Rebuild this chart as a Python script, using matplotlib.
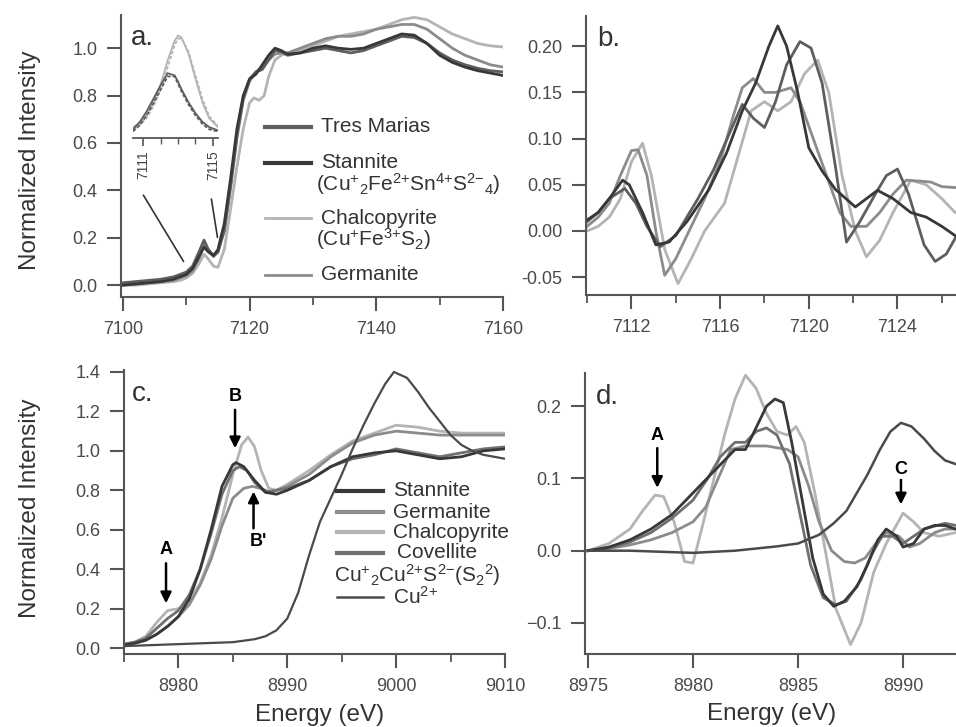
import matplotlib
matplotlib.use("Agg")
import matplotlib.pyplot as plt
from matplotlib.lines import Line2D
from matplotlib.ticker import MultipleLocator

plt.rcParams['font.family'] = ['Liberation Sans', 'DejaVu Sans']
plt.rcParams['mathtext.fontset'] = 'custom'
plt.rcParams['mathtext.rm'] = 'Liberation Sans'
plt.rcParams['mathtext.it'] = 'Liberation Sans:italic'
plt.rcParams['mathtext.bf'] = 'Liberation Sans:bold'

W, H = 956, 727

# ---------------- panel a: Fe K-edge XANES ----------------
fe_x_tres = [7100, 7102, 7104, 7106, 7108, 7109, 7110, 7111, 7112, 7112.8, 7113.5, 7114.3, 7115, 7116, 7117,
             7118, 7119, 7120, 7121, 7122, 7123, 7124, 7125, 7126, 7128, 7130, 7132, 7134, 7136, 7138, 7140,
             7142, 7144, 7146, 7148, 7150, 7152, 7154, 7156, 7158, 7160]
fe_y_tres = [0.01, 0.015, 0.02, 0.025, 0.035, 0.045, 0.055, 0.08, 0.14, 0.19, 0.15, 0.125, 0.14, 0.23, 0.42,
             0.63, 0.79, 0.87, 0.9, 0.91, 0.95, 0.99, 0.985, 0.97, 0.98, 0.99, 1.0, 0.99, 0.98, 0.99, 1.01,
             1.03, 1.05, 1.045, 1.02, 0.98, 0.95, 0.93, 0.915, 0.905, 0.9]
fe_x_stan = fe_x_tres
fe_y_stan = [0.0, 0.005, 0.01, 0.015, 0.025, 0.035, 0.045, 0.07, 0.12, 0.16, 0.14, 0.125, 0.15, 0.26, 0.45,
             0.66, 0.8, 0.87, 0.89, 0.93, 0.97, 1.0, 0.99, 0.975, 0.98, 1.0, 1.01, 1.0, 0.995, 1.0, 1.02,
             1.04, 1.06, 1.055, 1.02, 0.97, 0.94, 0.92, 0.905, 0.895, 0.885]
fe_x_germ = fe_x_tres
fe_y_germ = [0.0, 0.005, 0.01, 0.015, 0.02, 0.03, 0.04, 0.06, 0.11, 0.17, 0.15, 0.12, 0.14, 0.23, 0.41,
             0.62, 0.78, 0.86, 0.9, 0.92, 0.95, 0.975, 0.98, 0.98, 1.0, 1.02, 1.04, 1.05, 1.05, 1.06, 1.08,
             1.09, 1.1, 1.1, 1.08, 1.04, 1.0, 0.97, 0.95, 0.93, 0.92]
fe_x_chal = [7100, 7102, 7104, 7106, 7108, 7109, 7110, 7111, 7112, 7112.8, 7113.5, 7114.3, 7115, 7116, 7117,
             7118, 7119, 7120, 7120.7, 7121.5, 7122.3, 7123, 7124, 7125, 7126, 7128, 7130, 7132, 7134, 7136,
             7138, 7140, 7142, 7144, 7146, 7148, 7150, 7152, 7154, 7156, 7158, 7160]
fe_y_chal = [0.0, 0.0, 0.005, 0.01, 0.015, 0.02, 0.03, 0.05, 0.09, 0.13, 0.11, 0.08, 0.075, 0.15, 0.32,
             0.5, 0.66, 0.77, 0.79, 0.78, 0.8, 0.88, 0.95, 0.97, 0.98, 0.99, 1.01, 1.03, 1.05, 1.06,
             1.07, 1.08, 1.1, 1.12, 1.13, 1.12, 1.09, 1.06, 1.04, 1.02, 1.01, 1.005]

# inset: pre-edge peaks
pre_x = [7110.4, 7110.8, 7111.2, 7111.6, 7112.0, 7112.4, 7112.8, 7113.0, 7113.2, 7113.6, 7114.0, 7114.4,
         7114.8, 7115.3]
pre_chal = [0.1, 0.14, 0.22, 0.34, 0.5, 0.72, 0.9, 0.95, 0.93, 0.78, 0.55, 0.33, 0.18, 0.1]
pre_germ = [0.08, 0.12, 0.19, 0.3, 0.45, 0.66, 0.86, 0.92, 0.92, 0.8, 0.58, 0.36, 0.2, 0.11]
pre_stan = [0.08, 0.15, 0.25, 0.37, 0.49, 0.6, 0.58, 0.52, 0.45, 0.33, 0.23, 0.15, 0.1, 0.07]
pre_tres = [0.06, 0.12, 0.21, 0.33, 0.45, 0.57, 0.57, 0.5, 0.43, 0.31, 0.21, 0.13, 0.08, 0.06]

# ---------------- panel b: Fe derivative ----------------
fd_x_stan = [7110.0, 7110.5, 7111.0, 7111.6, 7111.9, 7112.5, 7113.1, 7113.7, 7114.5, 7115.5, 7116.3, 7117.0,
             7117.6, 7118.2, 7118.6, 7119.0, 7119.5, 7120.0, 7120.6, 7121.2, 7122.1, 7122.6, 7123.1, 7123.8,
             7124.6, 7125.3, 7126.0, 7126.6]
fd_y_stan = [0.012, 0.02, 0.035, 0.055, 0.05, 0.02, -0.015, -0.012, 0.01, 0.045, 0.085, 0.13,
             0.16, 0.2, 0.222, 0.2, 0.15, 0.09, 0.065, 0.045, 0.026, 0.035, 0.044, 0.035,
             0.02, 0.015, 0.005, -0.005]
fd_x_tres = [7110.0, 7110.5, 7111.0, 7111.7, 7112.2, 7112.7, 7113.3, 7114.0, 7115.0, 7115.7, 7116.5, 7117.0,
             7117.5, 7118.0, 7118.5, 7119.0, 7119.6, 7120.1, 7120.6, 7121.2, 7121.7, 7122.3, 7123.0, 7123.5,
             7124.0, 7124.5, 7125.2, 7125.7, 7126.2, 7126.6]
fd_y_tres = [0.01, 0.02, 0.035, 0.046, 0.03, 0.005, -0.017, -0.005, 0.035, 0.066, 0.11, 0.137,
             0.122, 0.112, 0.14, 0.18, 0.205, 0.198, 0.16, 0.07, -0.012, 0.01, 0.04, 0.06,
             0.067, 0.04, -0.015, -0.033, -0.025, -0.008]
fd_x_germ = [7110.0, 7110.5, 7111.0, 7111.5, 7112.0, 7112.3, 7112.7, 7113.1, 7113.5, 7114.0, 7114.6, 7115.3,
             7116.0, 7116.6, 7117.0, 7117.5, 7118.0, 7118.5, 7119.2, 7119.6, 7120.2, 7120.8, 7121.4, 7121.9,
             7122.6, 7123.2, 7123.8, 7124.4, 7125.0, 7125.5, 7126.0, 7126.6]
fd_y_germ = [0.005, 0.015, 0.03, 0.06, 0.087, 0.088, 0.06, 0.0, -0.048, -0.03, 0.0, 0.035,
             0.075, 0.125, 0.155, 0.165, 0.15, 0.15, 0.155, 0.14, 0.1, 0.06, 0.02, 0.005,
             0.005, 0.02, 0.04, 0.055, 0.054, 0.053, 0.048, 0.047]
fd_x_chal = [7110.0, 7110.5, 7111.0, 7111.5, 7112.0, 7112.5, 7112.9, 7113.5, 7114.1, 7114.7, 7115.3, 7116.2,
             7116.8, 7117.4, 7118.0, 7118.6, 7119.2, 7119.8, 7120.4, 7120.9, 7121.5, 7122.1, 7122.6, 7123.2,
             7123.8, 7124.6, 7125.3, 7126.0, 7126.6]
fd_y_chal = [0.0, 0.005, 0.015, 0.035, 0.075, 0.095, 0.06, -0.02, -0.057, -0.03, 0.0, 0.03,
             0.08, 0.13, 0.14, 0.13, 0.14, 0.17, 0.185, 0.15, 0.06, 0.0, -0.028, -0.01,
             0.02, 0.055, 0.05, 0.035, 0.02]

# ---------------- panel c: Cu K-edge XANES ----------------
cu_x_stan = [8975, 8976, 8977, 8978, 8979, 8980, 8981, 8982, 8983, 8984, 8985, 8985.3, 8986, 8987, 8988,
             8989, 8990, 8992, 8994, 8996, 8998, 9000, 9002, 9004, 9006, 9008, 9010]
cu_y_stan = [0.015, 0.025, 0.04, 0.07, 0.11, 0.16, 0.25, 0.4, 0.6, 0.82, 0.93, 0.94, 0.92, 0.85, 0.79,
             0.78, 0.8, 0.85, 0.92, 0.97, 0.99, 1.0, 0.98, 0.96, 0.97, 1.0, 1.01]
cu_x_germ = [8975, 8976, 8977, 8978, 8979, 8980, 8981, 8982, 8983, 8984, 8985, 8986, 8986.8, 8987.5, 8988.5,
             8990, 8992, 8994, 8996, 8998, 9000, 9002, 9004, 9006, 9008, 9010]
cu_y_germ = [0.02, 0.025, 0.04, 0.07, 0.11, 0.16, 0.22, 0.32, 0.45, 0.62, 0.76, 0.81, 0.82, 0.81, 0.79,
             0.82, 0.88, 0.97, 1.04, 1.08, 1.1, 1.09, 1.08, 1.08, 1.08, 1.08]
cu_x_chal = [8975, 8976, 8977, 8978, 8979, 8980, 8981, 8982, 8983, 8984, 8985, 8985.8, 8986.4, 8987, 8987.6,
             8988.3, 8989, 8990, 8992, 8994, 8996, 8998, 9000, 9002, 9004, 9006, 9008, 9010]
cu_y_chal = [0.02, 0.03, 0.06, 0.13, 0.19, 0.2, 0.24, 0.33, 0.47, 0.66, 0.88, 1.03, 1.07, 1.02, 0.9,
             0.81, 0.8, 0.83, 0.9, 0.98, 1.05, 1.09, 1.13, 1.12, 1.1, 1.09, 1.09, 1.09]
cu_x_cov = [8975, 8976, 8977, 8978, 8979, 8980, 8981, 8982, 8983, 8984, 8985, 8985.6, 8986.3, 8987, 8988,
            8989, 8990, 8992, 8994, 8996, 8998, 9000, 9002, 9004, 9006, 9008, 9010]
cu_y_cov = [0.02, 0.03, 0.05, 0.1, 0.15, 0.19, 0.27, 0.4, 0.58, 0.78, 0.9, 0.92, 0.9, 0.84, 0.79,
            0.8, 0.81, 0.85, 0.92, 0.96, 0.98, 1.01, 0.99, 0.97, 0.99, 1.01, 1.02]
cu_x_cu2 = [8975, 8980, 8985, 8987, 8988, 8989, 8990, 8991, 8992, 8993, 8994, 8995, 8996, 8997, 8998, 8999,
            8999.8, 9001, 9002, 9003, 9004, 9005, 9006, 9007, 9008, 9009, 9010]
cu_y_cu2 = [0.01, 0.02, 0.03, 0.045, 0.06, 0.09, 0.15, 0.28, 0.47, 0.64, 0.76, 0.88, 1.01, 1.13, 1.24, 1.34,
            1.4, 1.37, 1.3, 1.22, 1.15, 1.08, 1.03, 1.0, 0.98, 0.97, 0.96]

# ---------------- panel d: Cu derivative ----------------
cd_x_stan = [8975, 8976, 8977, 8978, 8979, 8980, 8980.5, 8981, 8981.5, 8982, 8982.5, 8983, 8983.5, 8983.9,
             8984.3, 8984.7, 8985.2, 8985.7, 8986.2, 8986.7, 8987.2, 8987.8, 8988.3, 8988.8, 8989.2, 8989.7,
             8990, 8990.5, 8991, 8991.5, 8992, 8992.5]
cd_y_stan = [0.0, 0.005, 0.015, 0.03, 0.05, 0.08, 0.095, 0.11, 0.125, 0.14, 0.14, 0.17, 0.2, 0.21,
             0.205, 0.15, 0.07, -0.01, -0.06, -0.077, -0.07, -0.05, -0.02, 0.015, 0.03, 0.02,
             0.005, 0.01, 0.03, 0.035, 0.035, 0.03]
cd_x_germ = [8975, 8976, 8977, 8978, 8979, 8980, 8980.6, 8981.2, 8981.8, 8982.5, 8983.5, 8984.5, 8985,
             8985.5, 8986, 8986.6, 8987.2, 8987.7, 8988.2, 8988.7, 8989.2, 8989.8, 8990.3, 8990.8, 8991.5,
             8992, 8992.5]
cd_y_germ = [0.0, 0.003, 0.008, 0.015, 0.025, 0.04, 0.06, 0.1, 0.14, 0.145, 0.145, 0.14, 0.13,
             0.09, 0.04, 0.0, -0.015, -0.017, -0.01, 0.01, 0.025, 0.02, 0.005, 0.01, 0.025,
             0.03, 0.03]
cd_x_chal = [8975, 8976, 8977, 8977.6, 8978.2, 8978.6, 8979.1, 8979.6, 8980, 8980.5, 8981, 8981.5, 8982,
             8982.5, 8983, 8983.5, 8984, 8984.5, 8984.9, 8985.3, 8985.8, 8986.3, 8986.8, 8987.5, 8988,
             8988.6, 8989.2, 8990, 8990.5, 8991, 8991.7, 8992.5]
cd_y_chal = [0.0, 0.01, 0.03, 0.055, 0.077, 0.075, 0.04, -0.015, -0.017, 0.04, 0.1, 0.16, 0.21,
             0.243, 0.225, 0.19, 0.165, 0.16, 0.172, 0.15, 0.08, 0.0, -0.08, -0.13, -0.1,
             -0.03, 0.01, 0.052, 0.04, 0.025, 0.02, 0.025]
cd_x_cov = [8975, 8976, 8977, 8978, 8979, 8980, 8980.7, 8981.3, 8982, 8982.5, 8983, 8983.5, 8984, 8984.6,
            8985.1, 8985.6, 8986.2, 8986.8, 8987.3, 8988, 8988.5, 8989, 8989.5, 8990, 8990.5, 8991, 8992,
            8992.5]
cd_y_cov = [0.0, 0.004, 0.012, 0.025, 0.045, 0.07, 0.1, 0.13, 0.15, 0.15, 0.165, 0.17, 0.16, 0.12,
            0.05, -0.02, -0.065, -0.075, -0.07, -0.04, -0.005, 0.02, 0.02, 0.01, 0.02, 0.03, 0.038,
            0.035]
cd_x_cu2 = [8975, 8977, 8979, 8980, 8982, 8984, 8985, 8986, 8986.7, 8987.3, 8987.8, 8988.3, 8988.9, 8989.4,
            8989.9, 8990.4, 8991, 8991.5, 8992, 8992.5]
cd_y_cu2 = [0.0, 0.0, -0.002, -0.003, 0.0, 0.006, 0.01, 0.022, 0.038, 0.055, 0.08, 0.105, 0.14, 0.165,
            0.177, 0.172, 0.155, 0.138, 0.125, 0.12]

c_tres, c_stan, c_chal, c_germ = '#5e5e5e', '#383838', '#b4b4b4', '#8c8c8c'
c_cov, c_cu2 = '#707070', '#4a4a4a'


def px_rect(left, top, right, bottom):
    return [left / W, 1 - bottom / H, (right - left) / W, (bottom - top) / H]


def style(ax):
    for s in ['top', 'right']:
        ax.spines[s].set_visible(False)
    for s in ['left', 'bottom']:
        ax.spines[s].set_color('#555555')
        ax.spines[s].set_linewidth(1.5)
    ax.tick_params(which='major', direction='out', length=10, width=1.5, color='#555555',
                   labelsize=13, labelcolor='#4a4a4a', pad=7)
    ax.tick_params(which='minor', direction='out', length=6, width=1.3, color='#555555')


def legend_entry(x, y, label, color, lw=2.0, line=True, tx=None):
    if line:
        fig.add_artist(Line2D([x / W, (x + 46) / W], [1 - y / H, 1 - y / H], color=color, lw=lw))
    if tx is None:
        tx = x + 56
    fig.text(tx / W, 1 - y / H, label, va='center', ha='left', fontsize=15, color='#333333')


fig = plt.figure(figsize=(W / 100, H / 100), dpi=100)

# ---- a ----
ax_a = fig.add_axes(px_rect(121, 15, 503, 297))
style(ax_a)
ax_a.plot(fe_x_chal, fe_y_chal, color=c_chal, lw=2)
ax_a.plot(fe_x_germ, fe_y_germ, color=c_germ, lw=2)
ax_a.plot(fe_x_tres, fe_y_tres, color=c_tres, lw=2)
ax_a.plot(fe_x_stan, fe_y_stan, color=c_stan, lw=2)
ax_a.set_xlim(7099.7, 7160)
ax_a.set_ylim(-0.05, 1.14)
ax_a.xaxis.set_major_locator(MultipleLocator(20))
ax_a.xaxis.set_minor_locator(MultipleLocator(10))
ax_a.set_yticks([0.0, 0.2, 0.4, 0.6, 0.8, 1.0])
ax_a.text(0.025, 0.965, 'a.', transform=ax_a.transAxes, fontsize=20, va='top', color='#333333')
ax_a.annotate('', xy=(7109.8, 0.09), xytext=(7103.0, 0.39),
              arrowprops=dict(arrowstyle='-', color='#333333', lw=1.2))
ax_a.annotate('', xy=(7115.0, 0.19), xytext=(7113.9, 0.375),
              arrowprops=dict(arrowstyle='-', color='#333333', lw=1.2))

legend_entry(265, 127, 'Tres Marias', c_tres, lw=3)
legend_entry(265, 163, 'Stannite', c_stan, lw=3)
legend_entry(0, 184, r'(Cu$^{{+}}$$_{2}$Fe$^{2{+}}$Sn$^{4{+}}$S$^{2{-}}$$_{4}$)', c_stan, line=False, tx=316)
legend_entry(265, 218, 'Chalcopyrite', c_chal, lw=2)
legend_entry(0, 239, r'(Cu$^{{+}}$Fe$^{3{+}}$S$_{2}$)', c_chal, line=False, tx=316)
legend_entry(265, 275, 'Germanite', c_germ, lw=2)

# inset
ax_in = fig.add_axes(px_rect(133, 30, 218, 138))
ax_in.patch.set_alpha(0)
for s in ['top', 'right', 'left']:
    ax_in.spines[s].set_visible(False)
ax_in.spines['bottom'].set_color('#555555')
ax_in.spines['bottom'].set_linewidth(1.3)
ax_in.plot(pre_x, pre_chal, color=c_chal, lw=1.3)
ax_in.plot(pre_x, pre_germ, color=c_chal, lw=1.3, ls=(0, (2, 1)))
ax_in.plot(pre_x, pre_stan, color=c_tres, lw=1.3)
ax_in.plot(pre_x, pre_tres, color=c_tres, lw=1.3, ls=(0, (2, 1)))
ax_in.set_xlim(7110.4, 7115.3)
ax_in.set_ylim(0, 1)
ax_in.set_yticks([])
ax_in.set_xticks([7111, 7115])
ax_in.xaxis.set_minor_locator(MultipleLocator(1))
ax_in.tick_params(which='major', direction='out', length=6, width=1.2, color='#555555',
                  labelsize=10, labelcolor='#444444', labelrotation=90, pad=3)
ax_in.tick_params(which='minor', direction='out', length=4, width=1.0, color='#555555')

# ---- b ----
ax_b = fig.add_axes(px_rect(586, 16, 956, 295))
style(ax_b)
ax_b.plot(fd_x_chal, fd_y_chal, color=c_chal, lw=2)
ax_b.plot(fd_x_germ, fd_y_germ, color=c_germ, lw=2)
ax_b.plot(fd_x_tres, fd_y_tres, color=c_tres, lw=2)
ax_b.plot(fd_x_stan, fd_y_stan, color=c_stan, lw=2)
ax_b.set_xlim(7109.95, 7126.64)
ax_b.set_ylim(-0.0693, 0.2327)
ax_b.xaxis.set_major_locator(MultipleLocator(4))
ax_b.xaxis.set_minor_locator(MultipleLocator(2))
ax_b.set_yticks([-0.05, 0.0, 0.05, 0.10, 0.15, 0.20])
ax_b.set_yticklabels(['-0.05', '0.00', '0.05', '0.10', '0.15', '0.20'])
ax_b.text(0.03, 0.965, 'b.', transform=ax_b.transAxes, fontsize=20, va='top', color='#333333')

# ---- c ----
ax_c = fig.add_axes(px_rect(124, 370, 505, 654))
style(ax_c)
ax_c.plot(cu_x_chal, cu_y_chal, color=c_chal, lw=2)
ax_c.plot(cu_x_germ, cu_y_germ, color=c_germ, lw=2)
ax_c.plot(cu_x_cov, cu_y_cov, color=c_cov, lw=2)
ax_c.plot(cu_x_stan, cu_y_stan, color=c_stan, lw=2)
ax_c.plot(cu_x_cu2, cu_y_cu2, color=c_cu2, lw=1.6)
ax_c.set_xlim(8975, 9010)
ax_c.set_ylim(-0.03, 1.41)
ax_c.xaxis.set_major_locator(MultipleLocator(10))
ax_c.xaxis.set_minor_locator(MultipleLocator(5))
ax_c.set_yticks([0.0, 0.2, 0.4, 0.6, 0.8, 1.0, 1.2, 1.4])
ax_c.text(0.02, 0.96, 'c.', transform=ax_c.transAxes, fontsize=20, va='top', color='#333333')
arrow_kw = dict(arrowstyle='-|>', color='black', lw=1.8, mutation_scale=16, shrinkA=0, shrinkB=0)
ax_c.annotate('', xy=(8978.86, 0.227), xytext=(8978.86, 0.43), arrowprops=arrow_kw)
ax_c.text(8978.86, 0.50, 'A', ha='center', va='center', fontsize=13, fontweight='bold')
ax_c.annotate('', xy=(8985.2, 1.013), xytext=(8985.2, 1.208), arrowprops=arrow_kw)
ax_c.text(8985.2, 1.275, 'B', ha='center', va='center', fontsize=13, fontweight='bold')
ax_c.annotate('', xy=(8986.9, 0.794), xytext=(8986.9, 0.607), arrowprops=arrow_kw)
ax_c.text(8987.3, 0.54, "B'", ha='center', va='center', fontsize=13, fontweight='bold')

legend_entry(337, 491, 'Stannite', c_stan, lw=3)
legend_entry(337, 512, 'Germanite', c_germ, lw=3)
legend_entry(337, 532, 'Chalcopyrite', c_chal, lw=3)
legend_entry(337, 553, 'Covellite', c_cov, lw=3, tx=397)
legend_entry(0, 575, r'Cu$^{{+}}$$_{2}$Cu$^{2{+}}$S$^{2{-}}$(S$_{2}$$^{2}$)', c_cov, line=False, tx=334)
legend_entry(337, 597, r'Cu$^{2{+}}$', c_cu2, lw=1.8)

# ---- d ----
ax_d = fig.add_axes(px_rect(585, 373, 956, 654))
style(ax_d)
ax_d.plot(cd_x_chal, cd_y_chal, color=c_chal, lw=2)
ax_d.plot(cd_x_germ, cd_y_germ, color=c_germ, lw=2)
ax_d.plot(cd_x_cov, cd_y_cov, color=c_cov, lw=2)
ax_d.plot(cd_x_stan, cd_y_stan, color=c_stan, lw=2)
ax_d.plot(cd_x_cu2, cd_y_cu2, color=c_cu2, lw=1.8)
ax_d.set_xlim(8974.86, 8992.52)
ax_d.set_ylim(-0.143, 0.246)
ax_d.xaxis.set_major_locator(MultipleLocator(5))
ax_d.set_yticks([-0.1, 0.0, 0.1, 0.2])
ax_d.text(0.03, 0.96, 'd.', transform=ax_d.transAxes, fontsize=20, va='top', color='#333333')
ax_d.annotate('', xy=(8978.3, 0.087), xytext=(8978.3, 0.142), arrowprops=arrow_kw)
ax_d.text(8978.3, 0.16, 'A', ha='center', va='center', fontsize=13, fontweight='bold')
ax_d.annotate('', xy=(8989.9, 0.064), xytext=(8989.9, 0.098), arrowprops=arrow_kw)
ax_d.text(8989.9, 0.112, 'C', ha='center', va='center', fontsize=13, fontweight='bold')

# axis titles
fig.text(30 / W, 1 - 160 / H, 'Normalized Intensity', rotation=90, ha='center', va='center',
         fontsize=17.5, color='#333333')
fig.text(30 / W, 1 - 508 / H, 'Normalized Intensity', rotation=90, ha='center', va='center',
         fontsize=17.5, color='#333333')
fig.text(320 / W, 1 - 715 / H, 'Energy (eV)', ha='center', va='center', fontsize=17.5, color='#333333')
fig.text(772 / W, 1 - 714 / H, 'Energy (eV)', ha='center', va='center', fontsize=17.5, color='#333333')

fig.savefig('out.png', dpi=100)
